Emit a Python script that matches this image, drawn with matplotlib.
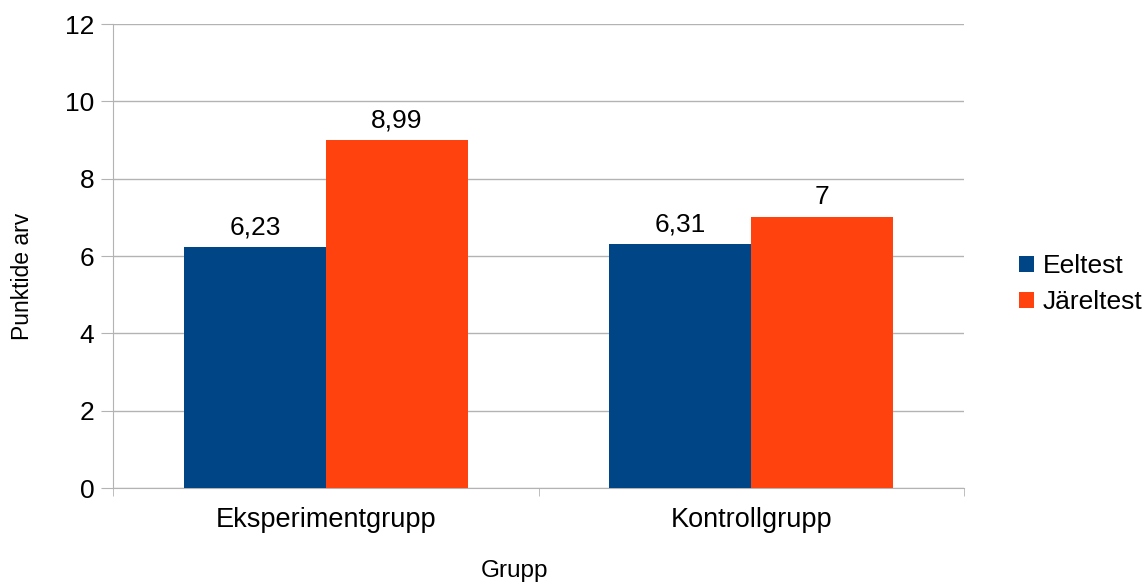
import matplotlib
matplotlib.use('Agg')
import matplotlib.pyplot as plt
import numpy as np

plt.rcParams['font.family'] = ['Liberation Sans', 'DejaVu Sans']

groups = ['Eksperimentgrupp', 'Kontrollgrupp']
series = ['Eeltest', 'Järeltest']
eeltest = [6.23, 6.31]
jareltest = [8.99, 7.0]
labels_eel = ['6,23', '6,31']
labels_jar = ['8,99', '7']
colors = ['#004586', '#ff420e']

fig = plt.figure(figsize=(11.48, 5.82), dpi=100)
ax = fig.add_axes([113 / 1148, 1 - 488 / 582, (964 - 113) / 1148, (488 - 24) / 582])

x = np.arange(len(groups))
w = 1 / 3
b1 = ax.bar(x - w / 2, eeltest, w, color=colors[0], label=series[0], zorder=3)
b2 = ax.bar(x + w / 2, jareltest, w, color=colors[1], label=series[1], zorder=3)

for bars, labs in ((b1, labels_eel), (b2, labels_jar)):
    for r, t in zip(bars, labs):
        ax.annotate(t, (r.get_x() + r.get_width() / 2, r.get_height()),
                    xytext=(0, 8), textcoords='offset pixels',
                    ha='center', va='bottom', fontsize=19)

ax.set_xlim(-0.5, 1.5)
ax.set_ylim(0, 12)
ax.set_yticks(range(0, 13, 2))
ax.set_xticks(x)
ax.set_xticklabels(groups, fontsize=19.5)
ax.tick_params(axis='y', labelsize=19, length=8.5, color='#b3b3b3', pad=5)
ax.tick_params(axis='x', length=0, pad=14)
# category boundary ticks
ax.set_xticks([-0.5, 0.5, 1.5], minor=True)
ax.tick_params(axis='x', which='minor', length=6, color='#b3b3b3')

ax.grid(axis='y', color='#b3b3b3', linewidth=1, zorder=0)
for s in ['top', 'right']:
    ax.spines[s].set_visible(False)
ax.spines['left'].set_color('#b3b3b3')
ax.spines['bottom'].set_color('#b3b3b3')

fig.text(23 / 1148, 1 - 276 / 582, 'Punktide arv', rotation=90,
         ha='center', va='center', fontsize=16.5)
fig.text(515 / 1148, 1 - 571 / 582, 'Grupp', ha='center', va='center', fontsize=17.5)

fig.legend(handles=[b1, b2], labels=series, loc='center left',
           bbox_to_anchor=(1019 / 1148, 1 - 284 / 582), frameon=False,
           fontsize=19, handlelength=0.55, handleheight=0.55,
           handletextpad=0.35, labelspacing=0.45, borderaxespad=0, borderpad=0)

fig.savefig('out.png', dpi=100)
